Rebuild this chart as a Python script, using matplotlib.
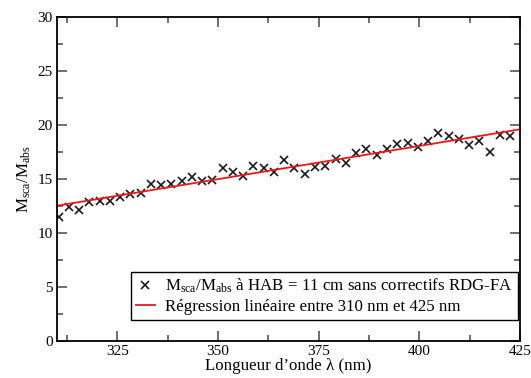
import numpy as np
import matplotlib
matplotlib.use('Agg')
import matplotlib.pyplot as plt
from matplotlib.ticker import MultipleLocator

# wavelength (nm) and Msca/Mabs
wavelength = [310.4, 312.9, 315.5, 318.0, 320.6, 323.1, 325.7, 328.2, 330.8, 333.3,
              335.9, 338.4, 341.0, 343.5, 346.1, 348.6, 351.2, 353.7, 356.3, 358.8,
              361.4, 363.9, 366.5, 369.0, 371.6, 374.1, 376.7, 379.2, 381.8, 384.3,
              386.9, 389.4, 392.0, 394.5, 397.1, 399.6, 402.2, 404.7, 407.3, 409.8,
              412.4, 414.9, 417.5, 420.0, 422.6]
ratio = [11.45, 12.43, 12.12, 12.84, 12.96, 12.96, 13.36, 13.58, 13.67, 14.54,
         14.41, 14.54, 14.78, 15.16, 14.84, 14.87, 16.02, 15.68, 15.28, 16.21,
         16.05, 15.68, 16.76, 16.02, 15.46, 16.08, 16.21, 16.83, 16.51, 17.44,
         17.75, 17.23, 17.75, 18.25, 18.37, 18.00, 18.52, 19.30, 18.99, 18.68,
         18.15, 18.55, 17.48, 19.08, 19.02]

x_ticks = [325, 350, 375, 400, 425]
y_ticks = [0, 5, 10, 15, 20, 25, 30]

plt.rcParams['font.family'] = ['Liberation Serif', 'DejaVu Serif']
plt.rcParams['mathtext.fontset'] = 'custom'
plt.rcParams['mathtext.rm'] = 'Liberation Serif'
plt.rcParams['mathtext.it'] = 'Liberation Serif:italic'

fig = plt.figure(figsize=(5.31, 3.78), dpi=100)
ax = fig.add_axes([0.1073, 0.098, 0.8717, 0.857])

# linear fit over the whole range
wl = np.array(wavelength)
coef = np.polyfit(wl, np.array(ratio), 1)
xfit = np.array([310, 425])

ax.plot(wavelength, ratio, linestyle='none', marker='x', color='#1a1a1a',
        markersize=6, markeredgewidth=1.2,
        label=r'M$_{\mathrm{sca}}$/M$_{\mathrm{abs}}$ à HAB = 11 cm sans correctifs RDG-FA')
ax.plot(xfit, np.polyval(coef, xfit), color='#e8191c', lw=1.3,
        label='Régression linéaire entre 310 nm et 425 nm')

ax.set_xlim(310, 425)
ax.set_ylim(0, 30)
ax.set_xticks(x_ticks)
ax.set_yticks(y_ticks)
ax.xaxis.set_minor_locator(MultipleLocator(12.5))
ax.yaxis.set_minor_locator(MultipleLocator(2.5))
ax.tick_params(which='both', direction='in', top=True, right=True,
               labelsize=11, color='#555555', width=1.2)
ax.tick_params(which='major', length=7, pad=3)
ax.tick_params(which='minor', length=4)
for s in ax.spines.values():
    s.set_linewidth(1.3)

ax.set_xlabel("Longueur d\u2019onde \u03bb (nm)", fontsize=12.2, labelpad=0)
ax.set_ylabel(r'M$_{\mathrm{sca}}$/M$_{\mathrm{abs}}$', fontsize=12.2, labelpad=3)

leg = ax.legend(loc='lower right', bbox_to_anchor=(0.996, 0.065), fontsize=12.2,
                frameon=True, fancybox=False, edgecolor='black', framealpha=1,
                handlelength=1.1, handletextpad=0.6, borderpad=0.3,
                labelspacing=0.2, borderaxespad=0)
leg.get_frame().set_linewidth(1.0)

fig.savefig('out.png', dpi=100)
